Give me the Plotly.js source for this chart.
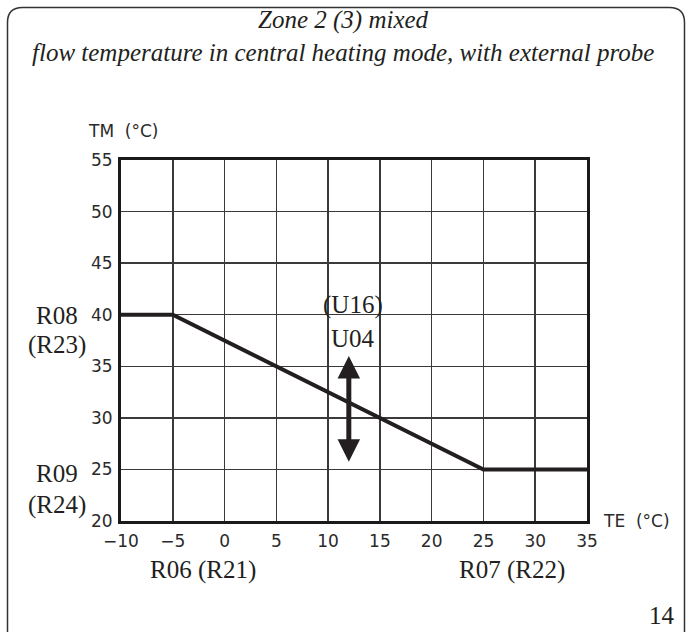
<!DOCTYPE html>
<html>
<head>
<meta charset="utf-8">
<script src="https://cdn.plot.ly/plotly-3.0.1.min.js"></script>
<style>html,body{margin:0;padding:0;background:#fff;}#chart{width:686px;height:632px;}</style>
</head>
<body>
<div id="chart"></div>
<script>
// ---- data ----
const teValues = [-10, -5, 25, 35];          // external temperature TE (°C)
const tmValues = [40, 40, 25, 25];           // flow temperature TM (°C)
const xTicks = [-10, -5, 0, 5, 10, 15, 20, 25, 30, 35];
const yTicks = [20, 25, 30, 35, 40, 45, 50, 55];
const arrowTE = 12;                           // U04 shift arrow position
const arrowTM = [25.6, 36];                   // arrow bottom / top
const titleLines = ["Zone 2 (3) mixed", "flow temperature in central heating mode, with external probe"];

// ---- layout helpers (pixel -> paper) ----
const W = 686, H = 632, L = 121, R = 587, T = 160, B = 521;
const px = x => (x - L) / (R - L);
const py = y => (B - y) / (B - T);

const serif = {family: "Liberation Serif", size: 25, color: "#231f20"};
const serifItalic = {family: "Liberation Serif", size: 25, style: "italic", color: "#231f20"};
const sans = {family: "DejaVu Sans", size: 17, color: "#2a2a2a"};

function label(text, x, y, font, xanchor) {
  return {text: text, x: px(x), y: py(y), xref: "paper", yref: "paper",
          showarrow: false, font: font, xanchor: xanchor || "center", yanchor: "middle"};
}

// rounded frame
function roundRect(x0, y0, x1, y1, r) {
  const P = (x, y) => px(x) + "," + py(y);
  return "M" + P(x0 + r, y0) + " L" + P(x1 - r, y0) + " Q" + P(x1, y0) + " " + P(x1, y0 + r) +
         " L" + P(x1, y1 - r) + " Q" + P(x1, y1) + " " + P(x1 - r, y1) +
         " L" + P(x0 + r, y1) + " Q" + P(x0, y1) + " " + P(x0, y1 - r) +
         " L" + P(x0, y0 + r) + " Q" + P(x0, y0) + " " + P(x0 + r, y0) + " Z";
}

const traces = [{
  x: teValues, y: tmValues, type: "scatter", mode: "lines",
  line: {color: "#231f20", width: 4}, hoverinfo: "x+y"
}];

const annotations = [
  label(titleLines[0], 343, 20, serifItalic),
  label(titleLines[1], 343, 53, serifItalic),
  label("TM  (°C)", 123, 131, sans),
  label("TE  (°C)", 601, 521, sans, "left"),
  label("R08", 57, 315, serif),
  label("(R23)", 57, 345, serif),
  label("R09", 57, 473, serif),
  label("(R24)", 57, 505, serif),
  label("R06 (R21)", 203, 570, serif),
  label("R07 (R22)", 512, 570, serif),
  label("(U16)", 353, 305, serif),
  label("U04", 353, 338, serif),
  label("14", 662, 615, serif),
  {x: arrowTE, y: arrowTM[1], ax: arrowTE, ay: arrowTM[0], xref: "x", yref: "y", axref: "x", ayref: "y",
   text: "", showarrow: true, arrowside: "end+start", arrowhead: 2, startarrowhead: 2,
   arrowwidth: 5, arrowsize: 0.9, startarrowsize: 0.9, arrowcolor: "#231f20"}
];

const layout = {
  width: W, height: H,
  margin: {l: L, r: W - R, t: T, b: H - B, pad: 0},
  paper_bgcolor: "#fff", plot_bgcolor: "#fff",
  showlegend: false,
  xaxis: {range: [-10, 35], tickvals: xTicks, ticktext: xTicks.map(v => v < 0 ? "\u2212" + Math.abs(v) : String(v)),
          showgrid: true, gridcolor: "#3a3a3a", gridwidth: 1.5, zeroline: false,
          showline: true, linecolor: "#1a1a1a", linewidth: 3, mirror: true,
          ticks: "", ticklabelstandoff: 3, tickfont: sans, fixedrange: true},
  yaxis: {range: [20, 55], tickvals: yTicks, showgrid: true, gridcolor: "#3a3a3a", gridwidth: 1.5, zeroline: false,
          showline: true, linecolor: "#1a1a1a", linewidth: 3, mirror: true,
          ticks: "", ticklabelstandoff: 2, tickfont: sans, fixedrange: true},
  annotations: annotations,
  shapes: [{type: "path", xref: "paper", yref: "paper", path: roundRect(7.5, 7.5, 684.5, 646, 15),
            line: {color: "#333", width: 1.5}, layer: "above"}]
};

Plotly.newPlot("chart", traces, layout, {staticPlot: true});
</script>
</body>
</html>
